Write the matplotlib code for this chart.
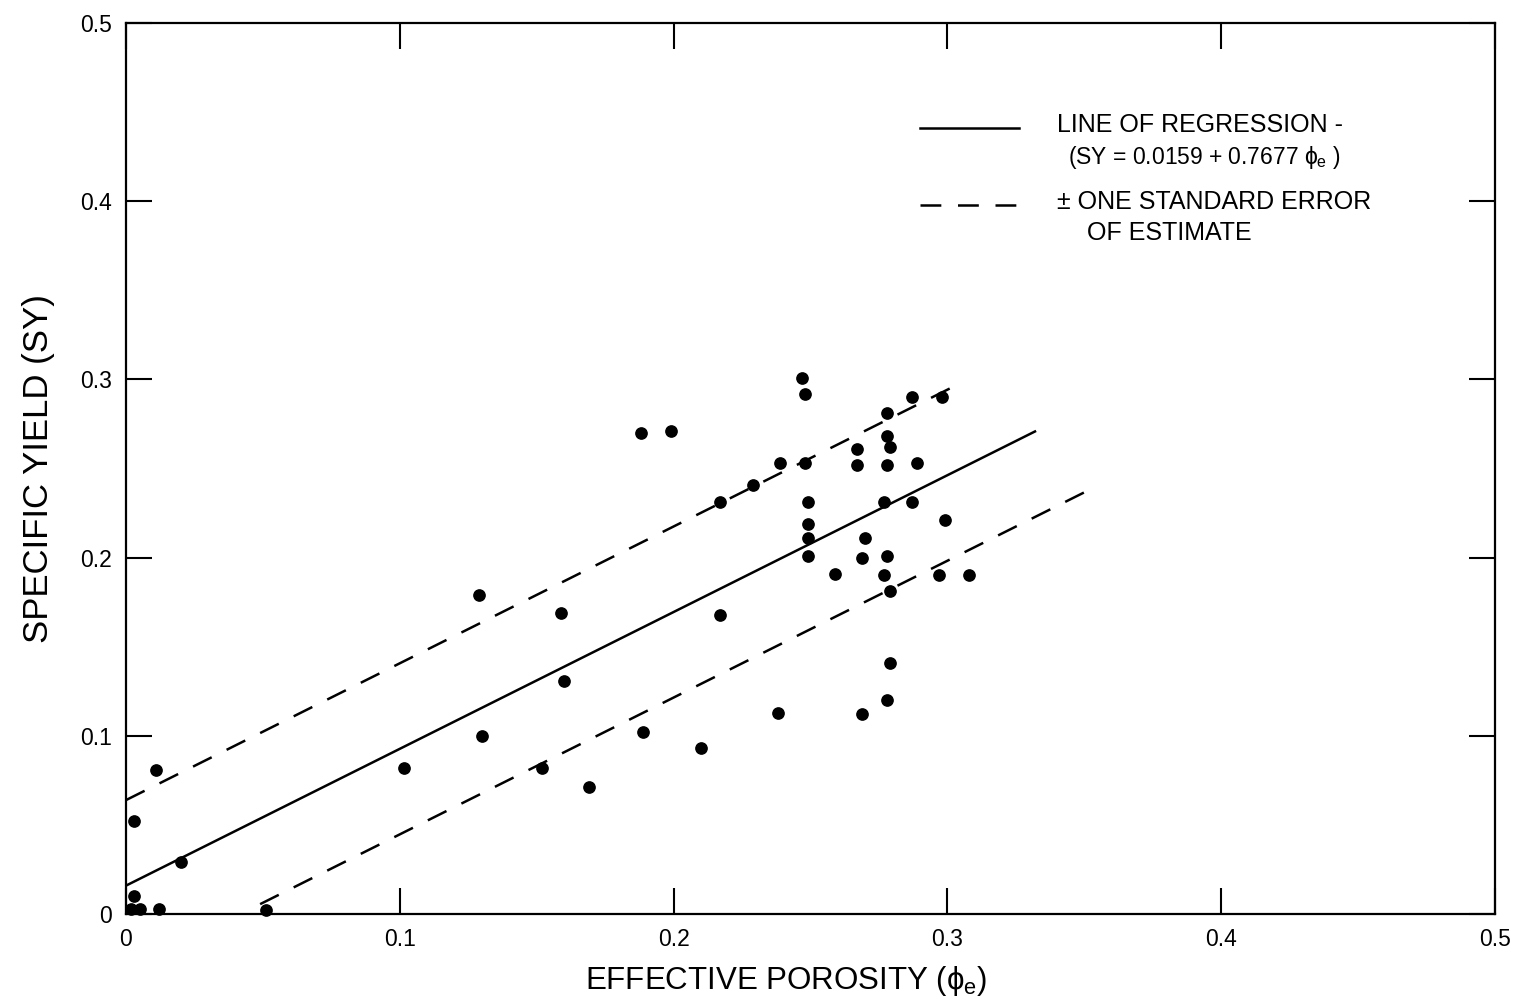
import numpy as np
import matplotlib
matplotlib.use("Agg")
import matplotlib.pyplot as plt

plt.rcParams["font.family"] = ["Liberation Sans", "DejaVu Sans"]
plt.rcParams["mathtext.fontset"] = "custom"
plt.rcParams["mathtext.rm"] = "Liberation Sans"
plt.rcParams["mathtext.it"] = "Liberation Sans"
plt.rcParams["lines.scale_dashes"] = False

# points (porosité efficace, rendement spécifique)
phi_e = [0.003, 0.011, 0.003, 0.002, 0.005, 0.012, 0.020, 0.051,
         0.1015, 0.129, 0.130, 0.152, 0.159, 0.160, 0.169,
         0.188, 0.199, 0.189, 0.210, 0.217, 0.217, 0.229,
         0.239, 0.238, 0.247, 0.248, 0.248, 0.249, 0.249, 0.249, 0.249,
         0.259, 0.267, 0.267, 0.270, 0.269, 0.269,
         0.278, 0.278, 0.279, 0.278, 0.277, 0.278, 0.277, 0.279, 0.279, 0.278,
         0.287, 0.289, 0.287, 0.298, 0.299, 0.297, 0.308]
sy = [0.052, 0.081, 0.010, 0.003, 0.003, 0.003, 0.029, 0.002,
      0.082, 0.179, 0.100, 0.082, 0.169, 0.131, 0.071,
      0.270, 0.271, 0.102, 0.093, 0.231, 0.168, 0.241,
      0.253, 0.113, 0.301, 0.292, 0.253, 0.231, 0.219, 0.211, 0.201,
      0.191, 0.261, 0.252, 0.211, 0.200, 0.112,
      0.281, 0.268, 0.262, 0.252, 0.231, 0.201, 0.190, 0.181, 0.141, 0.120,
      0.290, 0.253, 0.231, 0.290, 0.221, 0.190, 0.190]

# droite de régression et erreur type
a, b = 0.0159, 0.7677
se = 0.048
x_reg = np.array([0.0, 0.332])
x_up = np.array([0.0, 0.302])
x_lo = np.array([0.049, 0.351])

fig = plt.figure(figsize=(15.23, 9.99), dpi=100)
ax = fig.add_axes([0.0827, 0.0851, 0.8989, 0.8919])

ax.scatter(phi_e, sy, s=66, color="black", zorder=3, clip_on=False)
ax.plot(x_reg, a + b * x_reg, color="black", lw=1.8)
ax.plot(x_up, a + b * x_up + se, color="black", lw=1.8, dashes=(15, 12))
ax.plot(x_lo, a + b * x_lo - se, color="black", lw=1.8, dashes=(15, 12))

ax.set_xlim(0, 0.5)
ax.set_ylim(0, 0.5)
ticks = [0, 0.1, 0.2, 0.3, 0.4, 0.5]
labels = ["0", "0.1", "0.2", "0.3", "0.4", "0.5"]
ax.set_xticks(ticks, labels)
ax.set_yticks(ticks, labels)
ax.tick_params(direction="in", length=19, width=1.5, top=True, right=True,
               labelsize=16.5, pad=10)
for sp in ax.spines.values():
    sp.set_linewidth(1.6)

ax.set_xlabel(r"EFFECTIVE POROSITY ($\phi_e$)", fontsize=22.5)
ax.xaxis.set_label_coords(0.482, -0.056)
ax.set_ylabel("SPECIFIC YIELD (SY)", fontsize=25, labelpad=18)

# légende dessinée à la main
tr = ax.transAxes
ax.plot([0.580, 0.652], [0.882, 0.882], transform=tr, color="black", lw=1.8)
ax.plot([0.580, 0.652], [0.796, 0.796], transform=tr, color="black", lw=1.8,
        dashes=(15, 12))
ax.text(0.680, 0.886, "LINE OF REGRESSION -", transform=tr, fontsize=18, va="center")
ax.text(0.688, 0.849, r"(SY = 0.0159 + 0.7677 $\phi_e$ )", transform=tr,
        fontsize=16.5, va="center")
ax.text(0.680, 0.799, "± ONE STANDARD ERROR", transform=tr, fontsize=18, va="center")
ax.text(0.702, 0.764, "OF ESTIMATE", transform=tr, fontsize=18, va="center")

fig.savefig("out.png", dpi=100)
